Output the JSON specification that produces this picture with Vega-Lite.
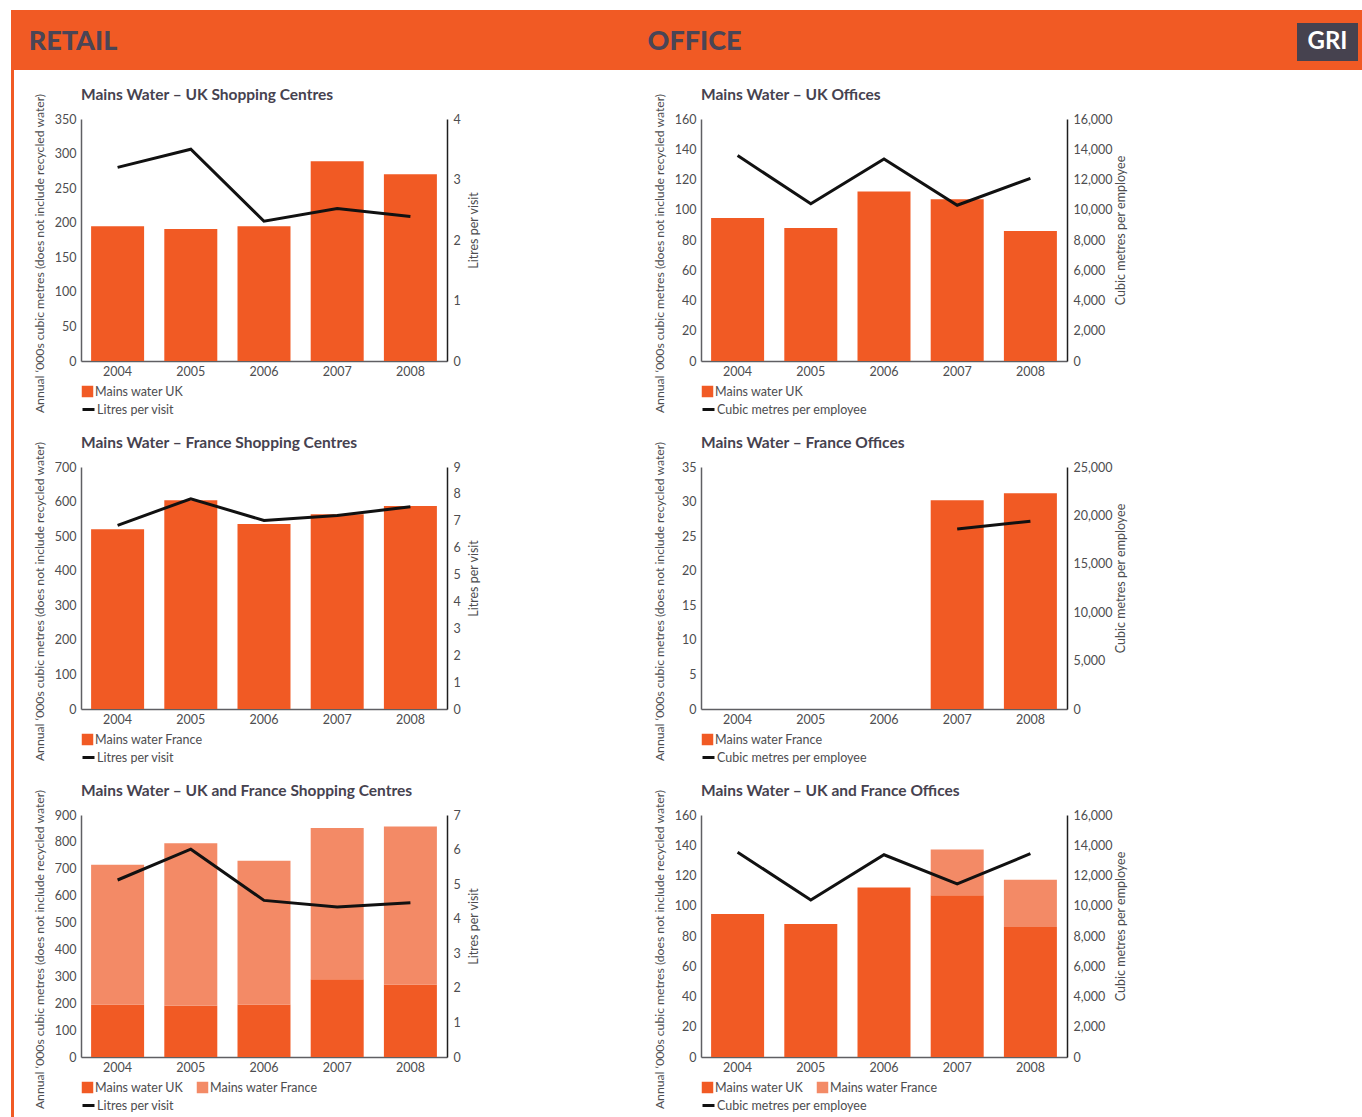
{
  "$schema": "https://vega.github.io/schema/vega-lite/v6.json",
  "padding": {"left": 11, "top": 10, "right": 0, "bottom": 0},
  "background": "white",
  "datasets": {
    "retailUkBars": [
      {"year": "2004", "series": "Mains water UK", "water": 195},
      {"year": "2005", "series": "Mains water UK", "water": 191},
      {"year": "2006", "series": "Mains water UK", "water": 195},
      {"year": "2007", "series": "Mains water UK", "water": 289},
      {"year": "2008", "series": "Mains water UK", "water": 270}
    ],
    "retailUkLine": [
      {"year": "2004", "measure": "Litres per visit", "value": 3.2},
      {"year": "2005", "measure": "Litres per visit", "value": 3.5},
      {"year": "2006", "measure": "Litres per visit", "value": 2.31},
      {"year": "2007", "measure": "Litres per visit", "value": 2.52},
      {"year": "2008", "measure": "Litres per visit", "value": 2.39}
    ],
    "officeUkBars": [
      {"year": "2004", "series": "Mains water UK", "water": 94.5},
      {"year": "2005", "series": "Mains water UK", "water": 88},
      {"year": "2006", "series": "Mains water UK", "water": 112},
      {"year": "2007", "series": "Mains water UK", "water": 107},
      {"year": "2008", "series": "Mains water UK", "water": 86}
    ],
    "officeUkLine": [
      {"year": "2004", "measure": "Cubic metres per employee", "value": 13580},
      {"year": "2005", "measure": "Cubic metres per employee", "value": 10400},
      {"year": "2006", "measure": "Cubic metres per employee", "value": 13360},
      {"year": "2007", "measure": "Cubic metres per employee", "value": 10300},
      {"year": "2008", "measure": "Cubic metres per employee", "value": 12080}
    ],
    "retailFrBars": [
      {"year": "2004", "series": "Mains water France", "water": 520},
      {"year": "2005", "series": "Mains water France", "water": 604},
      {"year": "2006", "series": "Mains water France", "water": 535},
      {"year": "2007", "series": "Mains water France", "water": 563},
      {"year": "2008", "series": "Mains water France", "water": 587}
    ],
    "retailFrLine": [
      {"year": "2004", "measure": "Litres per visit", "value": 6.83},
      {"year": "2005", "measure": "Litres per visit", "value": 7.82},
      {"year": "2006", "measure": "Litres per visit", "value": 7.01},
      {"year": "2007", "measure": "Litres per visit", "value": 7.2},
      {"year": "2008", "measure": "Litres per visit", "value": 7.52}
    ],
    "officeFrBars": [
      {"year": "2007", "series": "Mains water France", "water": 30.2},
      {"year": "2008", "series": "Mains water France", "water": 31.2}
    ],
    "officeFrLine": [
      {"year": "2007", "measure": "Cubic metres per employee", "value": 18600},
      {"year": "2008", "measure": "Cubic metres per employee", "value": 19400}
    ],
    "retailAllBars": [
      {"year": "2004", "series": "Mains water UK", "water": 195},
      {"year": "2005", "series": "Mains water UK", "water": 191},
      {"year": "2006", "series": "Mains water UK", "water": 195},
      {"year": "2007", "series": "Mains water UK", "water": 289},
      {"year": "2008", "series": "Mains water UK", "water": 270},
      {"year": "2004", "series": "Mains water France", "water": 520},
      {"year": "2005", "series": "Mains water France", "water": 604},
      {"year": "2006", "series": "Mains water France", "water": 535},
      {"year": "2007", "series": "Mains water France", "water": 563},
      {"year": "2008", "series": "Mains water France", "water": 587}
    ],
    "retailAllLine": [
      {"year": "2004", "measure": "Litres per visit", "value": 5.12},
      {"year": "2005", "measure": "Litres per visit", "value": 6.01},
      {"year": "2006", "measure": "Litres per visit", "value": 4.53},
      {"year": "2007", "measure": "Litres per visit", "value": 4.34},
      {"year": "2008", "measure": "Litres per visit", "value": 4.46}
    ],
    "officeAllBars": [
      {"year": "2004", "series": "Mains water UK", "water": 94.5},
      {"year": "2005", "series": "Mains water UK", "water": 88},
      {"year": "2006", "series": "Mains water UK", "water": 112},
      {"year": "2007", "series": "Mains water UK", "water": 107},
      {"year": "2008", "series": "Mains water UK", "water": 86},
      {"year": "2007", "series": "Mains water France", "water": 30.2},
      {"year": "2008", "series": "Mains water France", "water": 31.2}
    ],
    "officeAllLine": [
      {"year": "2004", "measure": "Cubic metres per employee", "value": 13540},
      {"year": "2005", "measure": "Cubic metres per employee", "value": 10380},
      {"year": "2006", "measure": "Cubic metres per employee", "value": 13370},
      {"year": "2007", "measure": "Cubic metres per employee", "value": 11450},
      {"year": "2008", "measure": "Cubic metres per employee", "value": 13440}
    ]
  },
  "config": {
    "font": "Lato",
    "view": {"stroke": null},
    "axis": {
      "grid": false,
      "ticks": false,
      "domainColor": "#5f5f63",
      "domainWidth": 1.5,
      "labelFont": "Lato",
      "labelFontSize": 12.5,
      "labelColor": "#4d4d4f",
      "titleFont": "Lato",
      "titleFontWeight": "normal",
      "titleColor": "#4d4d4f"
    },
    "axisX": {"labelAngle": 0, "labelPadding": 4},
    "axisLeft": {"labelPadding": 5, "titleFontSize": 12.2},
    "axisRight": {"labelPadding": 6, "titleFontSize": 12.5, "domainColor": "#1e1e1e"},
    "title": {
      "anchor": "start",
      "frame": "group",
      "font": "Lato",
      "fontSize": 15.5,
      "fontWeight": "bold",
      "color": "#46424f",
      "offset": -10
    },
    "legend": {
      "labelFont": "Lato",
      "labelFontSize": 12.5,
      "labelColor": "#4d4d4f",
      "padding": 0,
      "labelOffset": 1,
      "columnPadding": 12,
      "rowPadding": 0
    }
  },
  "bounds": "flush",
  "spacing": 0,
  "resolve": {"scale": {"fill": "independent", "stroke": "independent"}},
  "vconcat": [
    {
      "width": 1351,
      "height": 60,
      "view": {"fill": "#F15A24", "stroke": null},
      "layer": [
        {
          "data": {"values": [{"section": "RETAIL"}, {"section": "OFFICE"}]},
          "mark": {"type": "text", "font": "Lato", "fontWeight": 900, "fontSize": 27, "color": "#4a4556", "baseline": "middle", "dy": 2},
          "encoding": {
            "x": {"field": "section", "type": "nominal", "scale": {"type": "point", "domain": ["RETAIL", "OFFICE"], "range": [62, 683.5], "padding": 0}, "axis": null},
            "text": {"field": "section"}
          }
        },
        {
          "data": {"values": [{"badge": "GRI"}]},
          "mark": {"type": "point", "shape": "M-1,-0.557H1V0.689H-1Z", "size": 3721, "filled": true, "color": "#46424f", "opacity": 1},
          "encoding": {
            "x": {"field": "badge", "type": "nominal", "scale": {"type": "point", "domain": ["GRI"], "range": [1286, 1347]}, "axis": null}
          }
        },
        {
          "data": {"values": [{"badge": "GRI"}]},
          "mark": {"type": "text", "font": "Lato", "fontWeight": "bold", "fontSize": 24, "color": "white", "baseline": "middle", "dy": 2},
          "encoding": {
            "x": {"field": "badge", "type": "nominal", "scale": {"type": "point", "domain": ["GRI"], "range": [1286, 1347]}, "axis": null},
            "text": {"field": "badge"}
          }
        }
      ],
      "resolve": {"scale": {"x": "independent"}}
    },
    {
      "bounds": "flush",
      "spacing": 67,
      "resolve": {"scale": {"fill": "independent", "stroke": "independent"}},
      "hconcat": [
        {
          "width": 3,
          "height": 1047,
          "view": {"fill": "#F15A24", "stroke": null},
          "data": {"values": [{}]},
          "mark": {"type": "rect", "color": "#F15A24"},
          "encoding": {}
        },
        {
          "bounds": "flush",
          "spacing": 48,
          "resolve": {"scale": {"fill": "independent", "stroke": "independent"}},
          "vconcat": [
            {
              "width": 1,
              "height": 1,
              "data": {"values": [{}]},
              "mark": {"type": "rect", "opacity": 0},
              "encoding": {}
            },
            {
              "columns": 2,
              "bounds": "flush",
              "spacing": {"row": 106, "column": 254},
              "resolve": {"scale": {"fill": "independent", "stroke": "independent"}},
              "concat": [
                {
                  "width": 366,
                  "height": 242,
                  "title": "Mains Water – UK Shopping Centres",
                  "layer": [
                    {
                      "data": {"name": "retailUkBars"},
                      "mark": {"type": "bar"},
                      "encoding": {
                        "x": {"field": "year", "type": "ordinal", "scale": {"domain": ["2004", "2005", "2006", "2007", "2008"], "paddingInner": 0.276, "paddingOuter": 0.138}, "axis": {"title": null}},
                        "y": {"field": "water", "type": "quantitative", "scale": {"domain": [0, 350]}, "axis": {"orient": "left", "values": [0, 50, 100, 150, 200, 250, 300, 350], "title": "Annual ‘000s cubic metres (does not include recycled water)", "titleX": -42, "titleY": 134, "titleAngle": 270, "titleBaseline": "middle", "titleAlign": "center"}},
                        "fill": {"field": "series", "type": "nominal", "scale": {"domain": ["Mains water UK"], "range": ["#F15A24"]}, "legend": {"title": null, "orient": "none", "legendX": 0, "legendY": 266, "direction": "horizontal", "symbolType": "square", "symbolSize": 132}}
                      }
                    },
                    {
                      "data": {"name": "retailUkLine"},
                      "mark": {"type": "line", "strokeWidth": 3},
                      "encoding": {
                        "x": {"field": "year", "type": "ordinal"},
                        "y": {"field": "value", "type": "quantitative", "scale": {"domain": [0, 4]}, "axis": {"orient": "right", "values": [0, 1, 2, 3, 4], "title": "Litres per visit", "titleX": 26, "titleY": 111, "titleAngle": 270, "titleBaseline": "middle", "titleAlign": "center"}},
                        "stroke": {"field": "measure", "type": "nominal", "scale": {"range": ["#111111"]}, "legend": {"title": null, "orient": "none", "legendX": 0, "legendY": 283, "symbolType": "stroke", "symbolSize": 144, "symbolStrokeWidth": 3}}
                      }
                    }
                  ],
                  "resolve": {"scale": {"y": "independent"}}
                },
                {
                  "width": 366,
                  "height": 242,
                  "title": "Mains Water – UK Offices",
                  "layer": [
                    {
                      "data": {"name": "officeUkBars"},
                      "mark": {"type": "bar"},
                      "encoding": {
                        "x": {"field": "year", "type": "ordinal", "scale": {"domain": ["2004", "2005", "2006", "2007", "2008"], "paddingInner": 0.276, "paddingOuter": 0.138}, "axis": {"title": null}},
                        "y": {"field": "water", "type": "quantitative", "scale": {"domain": [0, 160]}, "axis": {"orient": "left", "values": [0, 20, 40, 60, 80, 100, 120, 140, 160], "title": "Annual ‘000s cubic metres (does not include recycled water)", "titleX": -42, "titleY": 134, "titleAngle": 270, "titleBaseline": "middle", "titleAlign": "center"}},
                        "fill": {"field": "series", "type": "nominal", "scale": {"domain": ["Mains water UK"], "range": ["#F15A24"]}, "legend": {"title": null, "orient": "none", "legendX": 0, "legendY": 266, "direction": "horizontal", "symbolType": "square", "symbolSize": 132}}
                      }
                    },
                    {
                      "data": {"name": "officeUkLine"},
                      "mark": {"type": "line", "strokeWidth": 3},
                      "encoding": {
                        "x": {"field": "year", "type": "ordinal"},
                        "y": {"field": "value", "type": "quantitative", "scale": {"domain": [0, 16000]}, "axis": {"orient": "right", "values": [0, 2000, 4000, 6000, 8000, 10000, 12000, 14000, 16000], "format": ",d", "title": "Cubic metres per employee", "titleX": 53, "titleY": 111, "titleAngle": 270, "titleBaseline": "middle", "titleAlign": "center"}},
                        "stroke": {"field": "measure", "type": "nominal", "scale": {"range": ["#111111"]}, "legend": {"title": null, "orient": "none", "legendX": 0, "legendY": 283, "symbolType": "stroke", "symbolSize": 144, "symbolStrokeWidth": 3}}
                      }
                    }
                  ],
                  "resolve": {"scale": {"y": "independent"}}
                },
                {
                  "width": 366,
                  "height": 242,
                  "title": "Mains Water – France Shopping Centres",
                  "layer": [
                    {
                      "data": {"name": "retailFrBars"},
                      "mark": {"type": "bar"},
                      "encoding": {
                        "x": {"field": "year", "type": "ordinal", "scale": {"domain": ["2004", "2005", "2006", "2007", "2008"], "paddingInner": 0.276, "paddingOuter": 0.138}, "axis": {"title": null}},
                        "y": {"field": "water", "type": "quantitative", "scale": {"domain": [0, 700]}, "axis": {"orient": "left", "values": [0, 100, 200, 300, 400, 500, 600, 700], "title": "Annual ‘000s cubic metres (does not include recycled water)", "titleX": -42, "titleY": 134, "titleAngle": 270, "titleBaseline": "middle", "titleAlign": "center"}},
                        "fill": {"field": "series", "type": "nominal", "scale": {"domain": ["Mains water France"], "range": ["#F15A24"]}, "legend": {"title": null, "orient": "none", "legendX": 0, "legendY": 266, "direction": "horizontal", "symbolType": "square", "symbolSize": 132}}
                      }
                    },
                    {
                      "data": {"name": "retailFrLine"},
                      "mark": {"type": "line", "strokeWidth": 3},
                      "encoding": {
                        "x": {"field": "year", "type": "ordinal"},
                        "y": {"field": "value", "type": "quantitative", "scale": {"domain": [0, 9]}, "axis": {"orient": "right", "values": [0, 1, 2, 3, 4, 5, 6, 7, 8, 9], "title": "Litres per visit", "titleX": 26, "titleY": 111, "titleAngle": 270, "titleBaseline": "middle", "titleAlign": "center"}},
                        "stroke": {"field": "measure", "type": "nominal", "scale": {"range": ["#111111"]}, "legend": {"title": null, "orient": "none", "legendX": 0, "legendY": 283, "symbolType": "stroke", "symbolSize": 144, "symbolStrokeWidth": 3}}
                      }
                    }
                  ],
                  "resolve": {"scale": {"y": "independent"}}
                },
                {
                  "width": 366,
                  "height": 242,
                  "title": "Mains Water – France Offices",
                  "layer": [
                    {
                      "data": {"name": "officeFrBars"},
                      "mark": {"type": "bar"},
                      "encoding": {
                        "x": {"field": "year", "type": "ordinal", "scale": {"domain": ["2004", "2005", "2006", "2007", "2008"], "paddingInner": 0.276, "paddingOuter": 0.138}, "axis": {"title": null}},
                        "y": {"field": "water", "type": "quantitative", "scale": {"domain": [0, 35]}, "axis": {"orient": "left", "values": [0, 5, 10, 15, 20, 25, 30, 35], "title": "Annual ‘000s cubic metres (does not include recycled water)", "titleX": -42, "titleY": 134, "titleAngle": 270, "titleBaseline": "middle", "titleAlign": "center"}},
                        "fill": {"field": "series", "type": "nominal", "scale": {"domain": ["Mains water France"], "range": ["#F15A24"]}, "legend": {"title": null, "orient": "none", "legendX": 0, "legendY": 266, "direction": "horizontal", "symbolType": "square", "symbolSize": 132}}
                      }
                    },
                    {
                      "data": {"name": "officeFrLine"},
                      "mark": {"type": "line", "strokeWidth": 3},
                      "encoding": {
                        "x": {"field": "year", "type": "ordinal"},
                        "y": {"field": "value", "type": "quantitative", "scale": {"domain": [0, 25000]}, "axis": {"orient": "right", "values": [0, 5000, 10000, 15000, 20000, 25000], "format": ",d", "title": "Cubic metres per employee", "titleX": 53, "titleY": 111, "titleAngle": 270, "titleBaseline": "middle", "titleAlign": "center"}},
                        "stroke": {"field": "measure", "type": "nominal", "scale": {"range": ["#111111"]}, "legend": {"title": null, "orient": "none", "legendX": 0, "legendY": 283, "symbolType": "stroke", "symbolSize": 144, "symbolStrokeWidth": 3}}
                      }
                    }
                  ],
                  "resolve": {"scale": {"y": "independent"}}
                },
                {
                  "width": 366,
                  "height": 242,
                  "title": "Mains Water – UK and France Shopping Centres",
                  "layer": [
                    {
                      "data": {"name": "retailAllBars"},
                      "mark": {"type": "bar"},
                      "encoding": {
                        "x": {"field": "year", "type": "ordinal", "scale": {"domain": ["2004", "2005", "2006", "2007", "2008"], "paddingInner": 0.276, "paddingOuter": 0.138}, "axis": {"title": null}},
                        "y": {"field": "water", "type": "quantitative", "stack": "zero", "scale": {"domain": [0, 900]}, "axis": {"orient": "left", "values": [0, 100, 200, 300, 400, 500, 600, 700, 800, 900], "title": "Annual ‘000s cubic metres (does not include recycled water)", "titleX": -42, "titleY": 134, "titleAngle": 270, "titleBaseline": "middle", "titleAlign": "center"}},
                        "order": {"field": "series", "sort": "descending"},
                        "fill": {"field": "series", "type": "nominal", "scale": {"domain": ["Mains water UK", "Mains water France"], "range": ["#F15A24", "#F38A66"]}, "legend": {"title": null, "orient": "none", "legendX": 0, "legendY": 266, "direction": "horizontal", "symbolType": "square", "symbolSize": 132}}
                      }
                    },
                    {
                      "data": {"name": "retailAllLine"},
                      "mark": {"type": "line", "strokeWidth": 3},
                      "encoding": {
                        "x": {"field": "year", "type": "ordinal"},
                        "y": {"field": "value", "type": "quantitative", "scale": {"domain": [0, 7]}, "axis": {"orient": "right", "values": [0, 1, 2, 3, 4, 5, 6, 7], "title": "Litres per visit", "titleX": 26, "titleY": 111, "titleAngle": 270, "titleBaseline": "middle", "titleAlign": "center"}},
                        "stroke": {"field": "measure", "type": "nominal", "scale": {"range": ["#111111"]}, "legend": {"title": null, "orient": "none", "legendX": 0, "legendY": 283, "symbolType": "stroke", "symbolSize": 144, "symbolStrokeWidth": 3}}
                      }
                    }
                  ],
                  "resolve": {"scale": {"y": "independent"}}
                },
                {
                  "width": 366,
                  "height": 242,
                  "title": "Mains Water – UK and France Offices",
                  "layer": [
                    {
                      "data": {"name": "officeAllBars"},
                      "mark": {"type": "bar"},
                      "encoding": {
                        "x": {"field": "year", "type": "ordinal", "scale": {"domain": ["2004", "2005", "2006", "2007", "2008"], "paddingInner": 0.276, "paddingOuter": 0.138}, "axis": {"title": null}},
                        "y": {"field": "water", "type": "quantitative", "stack": "zero", "scale": {"domain": [0, 160]}, "axis": {"orient": "left", "values": [0, 20, 40, 60, 80, 100, 120, 140, 160], "title": "Annual ‘000s cubic metres (does not include recycled water)", "titleX": -42, "titleY": 134, "titleAngle": 270, "titleBaseline": "middle", "titleAlign": "center"}},
                        "order": {"field": "series", "sort": "descending"},
                        "fill": {"field": "series", "type": "nominal", "scale": {"domain": ["Mains water UK", "Mains water France"], "range": ["#F15A24", "#F38A66"]}, "legend": {"title": null, "orient": "none", "legendX": 0, "legendY": 266, "direction": "horizontal", "symbolType": "square", "symbolSize": 132}}
                      }
                    },
                    {
                      "data": {"name": "officeAllLine"},
                      "mark": {"type": "line", "strokeWidth": 3},
                      "encoding": {
                        "x": {"field": "year", "type": "ordinal"},
                        "y": {"field": "value", "type": "quantitative", "scale": {"domain": [0, 16000]}, "axis": {"orient": "right", "values": [0, 2000, 4000, 6000, 8000, 10000, 12000, 14000, 16000], "format": ",d", "title": "Cubic metres per employee", "titleX": 53, "titleY": 111, "titleAngle": 270, "titleBaseline": "middle", "titleAlign": "center"}},
                        "stroke": {"field": "measure", "type": "nominal", "scale": {"range": ["#111111"]}, "legend": {"title": null, "orient": "none", "legendX": 0, "legendY": 283, "symbolType": "stroke", "symbolSize": 144, "symbolStrokeWidth": 3}}
                      }
                    }
                  ],
                  "resolve": {"scale": {"y": "independent"}}
                }
              ]
            }
          ]
        }
      ]
    }
  ]
}
